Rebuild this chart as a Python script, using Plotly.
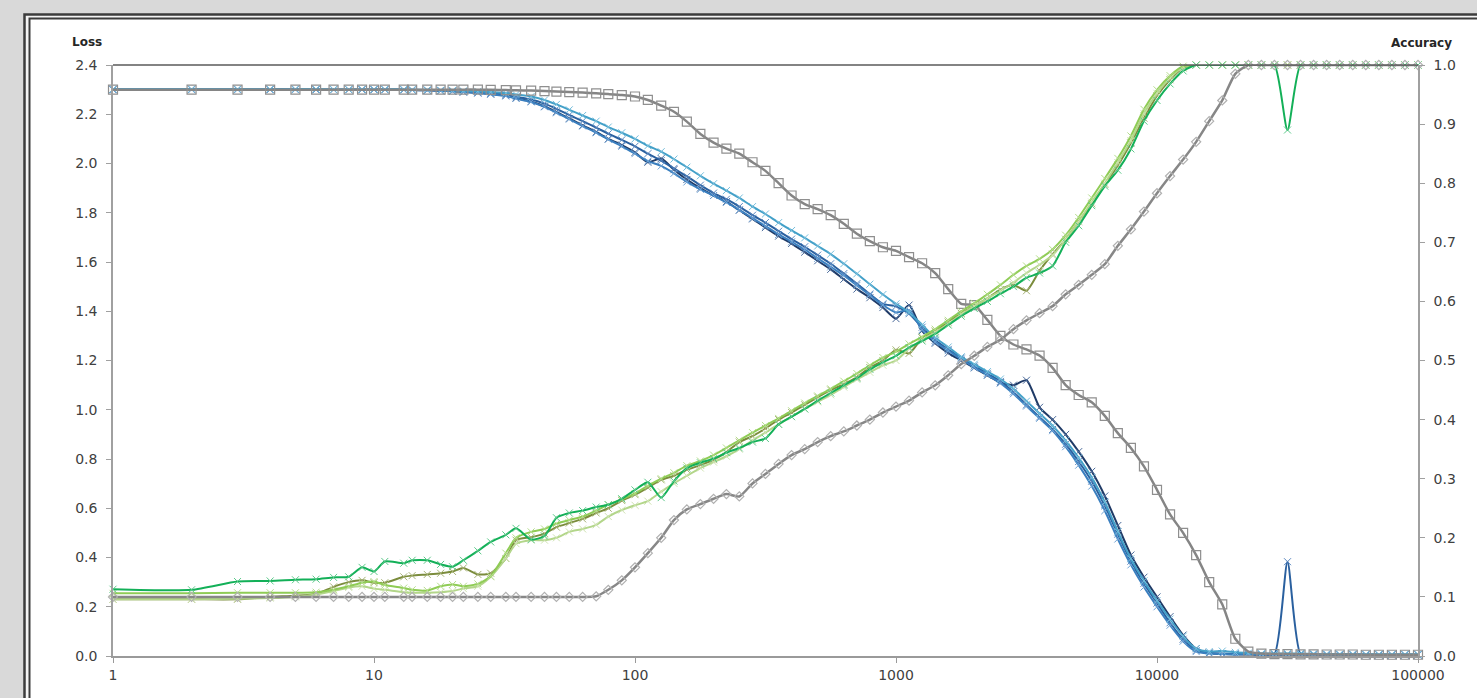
import plotly.graph_objects as go

# ---------------- data ----------------
steps = [1, 2, 3, 4, 5, 6, 7, 8, 9, 10,
         11, 13, 14, 16, 18, 20, 22, 25, 28, 32, 35, 40, 45, 50, 56, 63, 71, 79, 89,
         100, 112, 126, 141, 158, 178, 200, 224, 251, 282, 316, 355, 398, 447, 501, 562, 631, 708, 794, 891,
         1000, 1122, 1259, 1413, 1585, 1778, 1995, 2239, 2512, 2818, 3162, 3548, 3981, 4467, 5012, 5623, 6310, 7079, 7943, 8913,
         10000, 11220, 12589, 14125, 15849, 17783, 19953, 22387, 25119, 28184, 31623, 35481, 39811, 44668, 50119, 56234, 63096, 70795, 79433, 89125,
         100000]

loss_navy = [2.301, 2.301, 2.301, 2.301, 2.301, 2.300, 2.300, 2.300, 2.300, 2.300,
             2.300, 2.299, 2.298, 2.297, 2.295, 2.293, 2.290, 2.287, 2.282, 2.276, 2.266, 2.252, 2.232, 2.210, 2.183, 2.155, 2.128, 2.100, 2.075,
             2.045, 2.005, 2.020, 1.975, 1.935, 1.900, 1.870, 1.845, 1.810, 1.775, 1.740, 1.705, 1.675, 1.640, 1.605, 1.570, 1.530, 1.490, 1.455, 1.415,
             1.370, 1.425, 1.320, 1.270, 1.230, 1.200, 1.170, 1.140, 1.110, 1.100, 1.120, 1.010, 0.960, 0.900, 0.830, 0.750, 0.650, 0.530, 0.410, 0.320,
             0.240, 0.160, 0.085, 0.030, 0.012, 0.008, 0.006, 0.006, 0.005, 0.005, 0.005, 0.005, 0.005, 0.004, 0.004, 0.004, 0.004, 0.004, 0.004, 0.004,
             0.004]

loss_blue = [2.300, 2.300, 2.300, 2.300, 2.300, 2.300, 2.300, 2.300, 2.300, 2.300,
             2.300, 2.300, 2.299, 2.298, 2.297, 2.295, 2.292, 2.289, 2.285, 2.280, 2.271, 2.260, 2.243, 2.222, 2.197, 2.172, 2.146, 2.121, 2.096,
             2.070, 2.040, 2.012, 1.980, 1.948, 1.912, 1.880, 1.855, 1.825, 1.790, 1.760, 1.725, 1.693, 1.662, 1.628, 1.593, 1.553, 1.512, 1.470, 1.430,
             1.420, 1.390, 1.335, 1.282, 1.245, 1.210, 1.178, 1.148, 1.115, 1.072, 1.020, 0.970, 0.920, 0.860, 0.790, 0.710, 0.610, 0.495, 0.385, 0.295,
             0.215, 0.135, 0.068, 0.022, 0.012, 0.010, 0.009, 0.008, 0.008, 0.008, 0.383, 0.008, 0.007, 0.007, 0.006, 0.006, 0.006, 0.005, 0.005, 0.005,
             0.005]

loss_steel = [2.300, 2.300, 2.300, 2.300, 2.300, 2.300, 2.300, 2.300, 2.300, 2.300,
              2.300, 2.299, 2.298, 2.297, 2.295, 2.293, 2.290, 2.286, 2.281, 2.274, 2.264, 2.250, 2.230, 2.206, 2.180, 2.152, 2.125, 2.098, 2.070,
              2.040, 2.010, 1.990, 1.960, 1.925, 1.895, 1.870, 1.842, 1.812, 1.778, 1.746, 1.712, 1.682, 1.650, 1.615, 1.580, 1.545, 1.505, 1.465, 1.425,
              1.395, 1.405, 1.325, 1.275, 1.240, 1.205, 1.172, 1.142, 1.108, 1.065, 1.015, 0.965, 0.915, 0.850, 0.775, 0.690, 0.590, 0.475, 0.370, 0.280,
              0.200, 0.125, 0.060, 0.018, 0.010, 0.008, 0.007, 0.007, 0.006, 0.006, 0.006, 0.006, 0.005, 0.005, 0.005, 0.005, 0.005, 0.005, 0.004, 0.004,
              0.004]

loss_teal = [2.302, 2.302, 2.302, 2.302, 2.302, 2.302, 2.301, 2.301, 2.301, 2.301,
             2.301, 2.301, 2.300, 2.299, 2.298, 2.297, 2.295, 2.293, 2.290, 2.286, 2.280, 2.272, 2.258, 2.240, 2.218, 2.195, 2.172, 2.148, 2.125,
             2.100, 2.072, 2.048, 2.018, 1.985, 1.950, 1.918, 1.890, 1.860, 1.825, 1.795, 1.760, 1.728, 1.698, 1.665, 1.632, 1.593, 1.552, 1.510, 1.468,
             1.430, 1.395, 1.345, 1.292, 1.255, 1.215, 1.185, 1.155, 1.125, 1.085, 1.035, 0.985, 0.935, 0.875, 0.805, 0.725, 0.625, 0.505, 0.395, 0.305,
             0.225, 0.150, 0.080, 0.030, 0.018, 0.020, 0.015, 0.012, 0.010, 0.010, 0.010, 0.010, 0.009, 0.008, 0.008, 0.008, 0.007, 0.007, 0.007, 0.007,
             0.007]

loss_gray = [2.300, 2.300, 2.300, 2.300, 2.300, 2.300, 2.300, 2.300, 2.300, 2.300,
             2.300, 2.300, 2.300, 2.300, 2.300, 2.300, 2.300, 2.300, 2.299, 2.298, 2.297, 2.296, 2.294, 2.292, 2.290, 2.288, 2.285, 2.282, 2.278,
             2.272, 2.258, 2.235, 2.210, 2.170, 2.120, 2.085, 2.060, 2.040, 2.005, 1.970, 1.920, 1.870, 1.835, 1.815, 1.790, 1.755, 1.715, 1.685, 1.660,
             1.645, 1.620, 1.595, 1.555, 1.490, 1.430, 1.425, 1.365, 1.300, 1.265, 1.245, 1.220, 1.170, 1.100, 1.060, 1.030, 0.975, 0.905, 0.845, 0.770,
             0.675, 0.575, 0.500, 0.410, 0.300, 0.210, 0.070, 0.018, 0.010, 0.008, 0.008, 0.007, 0.007, 0.006, 0.006, 0.006, 0.005, 0.005, 0.005, 0.005,
             0.005]

acc_green = [0.113, 0.112, 0.126, 0.127, 0.129, 0.130, 0.133, 0.134, 0.150, 0.143,
             0.160, 0.157, 0.162, 0.162, 0.155, 0.151, 0.162, 0.178, 0.193, 0.205, 0.216, 0.197, 0.203, 0.234, 0.242, 0.246, 0.252, 0.256, 0.266,
             0.281, 0.294, 0.268, 0.296, 0.318, 0.327, 0.334, 0.344, 0.352, 0.362, 0.368, 0.392, 0.405, 0.418, 0.432, 0.445, 0.458, 0.470, 0.485, 0.497,
             0.508, 0.522, 0.533, 0.545, 0.560, 0.575, 0.588, 0.600, 0.613, 0.625, 0.640, 0.648, 0.660, 0.700, 0.728, 0.762, 0.795, 0.822, 0.858, 0.905,
             0.940, 0.968, 0.990, 1.000, 1.000, 1.000, 1.000, 1.000, 1.000, 1.000, 0.890, 1.000, 1.000, 1.000, 1.000, 1.000, 1.000, 1.000, 1.000, 1.000,
             1.000]

acc_olive = [0.096, 0.096, 0.096, 0.100, 0.102, 0.105, 0.117, 0.125, 0.128, 0.124,
             0.124, 0.134, 0.136, 0.138, 0.140, 0.143, 0.149, 0.138, 0.140, 0.165, 0.196, 0.201, 0.207, 0.218, 0.225, 0.232, 0.242, 0.250, 0.263,
             0.273, 0.285, 0.298, 0.305, 0.315, 0.323, 0.332, 0.345, 0.362, 0.372, 0.385, 0.400, 0.412, 0.425, 0.438, 0.450, 0.460, 0.472, 0.488, 0.500,
             0.518, 0.512, 0.538, 0.550, 0.565, 0.580, 0.592, 0.605, 0.620, 0.628, 0.618, 0.652, 0.680, 0.705, 0.735, 0.765, 0.798, 0.830, 0.868, 0.910,
             0.948, 0.975, 0.995, 1.000, 1.000, 1.000, 1.000, 1.000, 1.000, 1.000, 1.000, 1.000, 1.000, 1.000, 1.000, 1.000, 1.000, 1.000, 1.000, 1.000,
             1.000]

acc_lime = [0.106, 0.106, 0.107, 0.107, 0.107, 0.108, 0.112, 0.118, 0.124, 0.126,
            0.120, 0.115, 0.112, 0.111, 0.118, 0.121, 0.118, 0.122, 0.135, 0.174, 0.200, 0.210, 0.215, 0.224, 0.230, 0.236, 0.246, 0.256, 0.265,
            0.275, 0.288, 0.300, 0.310, 0.322, 0.330, 0.340, 0.352, 0.365, 0.378, 0.390, 0.402, 0.415, 0.428, 0.440, 0.452, 0.465, 0.478, 0.492, 0.505,
            0.515, 0.528, 0.540, 0.553, 0.568, 0.583, 0.597, 0.612, 0.628, 0.645, 0.660, 0.672, 0.688, 0.712, 0.742, 0.775, 0.808, 0.842, 0.880, 0.925,
            0.958, 0.982, 0.998, 1.000, 1.000, 1.000, 1.000, 1.000, 1.000, 1.000, 1.000, 1.000, 1.000, 1.000, 1.000, 1.000, 1.000, 1.000, 1.000, 1.000,
            1.000]

acc_pale = [0.096, 0.096, 0.097, 0.098, 0.100, 0.104, 0.110, 0.116, 0.118, 0.114,
            0.112, 0.108, 0.107, 0.107, 0.108, 0.110, 0.114, 0.118, 0.134, 0.165, 0.190, 0.196, 0.196, 0.200, 0.210, 0.215, 0.222, 0.236, 0.247,
            0.255, 0.262, 0.278, 0.292, 0.305, 0.318, 0.328, 0.338, 0.350, 0.365, 0.378, 0.392, 0.405, 0.418, 0.430, 0.442, 0.455, 0.468, 0.480, 0.492,
            0.500, 0.520, 0.535, 0.548, 0.562, 0.578, 0.592, 0.605, 0.618, 0.632, 0.648, 0.662, 0.678, 0.705, 0.735, 0.768, 0.800, 0.835, 0.872, 0.918,
            0.952, 0.978, 0.996, 1.000, 1.000, 1.000, 1.000, 1.000, 1.000, 1.000, 1.000, 1.000, 1.000, 1.000, 1.000, 1.000, 1.000, 1.000, 1.000, 1.000,
            1.000]

acc_gray = [0.100, 0.100, 0.100, 0.100, 0.100, 0.100, 0.100, 0.100, 0.100, 0.100,
            0.100, 0.100, 0.100, 0.100, 0.100, 0.100, 0.100, 0.100, 0.100, 0.100, 0.100, 0.100, 0.100, 0.100, 0.100, 0.100, 0.101, 0.112, 0.128,
            0.150, 0.174, 0.200, 0.230, 0.248, 0.257, 0.266, 0.274, 0.270, 0.292, 0.308, 0.325, 0.340, 0.350, 0.362, 0.372, 0.380, 0.390, 0.400, 0.412,
            0.422, 0.432, 0.446, 0.458, 0.475, 0.494, 0.508, 0.523, 0.535, 0.553, 0.568, 0.580, 0.592, 0.612, 0.628, 0.645, 0.663, 0.694, 0.722, 0.752,
            0.783, 0.812, 0.840, 0.870, 0.905, 0.940, 0.985, 1.000, 1.000, 1.000, 1.000, 1.000, 1.000, 1.000, 1.000, 1.000, 1.000, 1.000, 1.000, 1.000,
            1.000]

loss_ticks = [0.0, 0.2, 0.4, 0.6, 0.8, 1.0, 1.2, 1.4, 1.6, 1.8, 2.0, 2.2, 2.4]
acc_ticks = [0.0, 0.1, 0.2, 0.3, 0.4, 0.5, 0.6, 0.7, 0.8, 0.9, 1.0]
step_ticks = [1, 10, 100, 1000, 10000, 100000]
step_labels = ["1", "10", "100", "1000", "10000", "100000"]

# ---------------- figure ----------------
W, H = 1477, 698
L, R, T, B = 113, 1418, 65, 656
FONT = "DejaVu Sans"
PAGE_BG = "#d9d9d9"


def px(x):
    return (x - L) / (R - L)


def py(y):
    return (B - y) / (B - T)


fig = go.Figure()

loss_series = [
    (loss_navy, "#1f3a66", "#4a6a9a"),
    (loss_blue, "#2a609f", "#5b88c0"),
    (loss_steel, "#3a7fbf", "#6fa2d4"),
    (loss_teal, "#43a0c8", "#76bedc"),
]
for vals, col, mcol in loss_series:
    fig.add_trace(go.Scatter(
        x=steps, y=vals, mode="lines+markers", yaxis="y",
        line=dict(color=col, width=2, shape="spline", smoothing=0.6),
        marker=dict(symbol="x-thin-open", size=7, color=mcol, line=dict(color=mcol, width=1)),
        cliponaxis=False, showlegend=False))

fig.add_trace(go.Scatter(
    x=steps, y=loss_gray, mode="lines+markers", yaxis="y",
    line=dict(color="#858585", width=2.5, shape="spline", smoothing=0.6),
    marker=dict(symbol="square-open", size=9, color="#8f8f8f", line=dict(color="#8f8f8f", width=1.2)),
    cliponaxis=False, showlegend=False))

acc_series = [
    (acc_olive, "#7b8c3c", "#a6b276"),
    (acc_pale, "#b3d68a", "#cfe3b2"),
    (acc_lime, "#8fcc55", "#b4dc8c"),
    (acc_green, "#13b058", "#5cc98a"),
]
for vals, col, mcol in acc_series:
    fig.add_trace(go.Scatter(
        x=steps, y=vals, mode="lines+markers", yaxis="y2",
        line=dict(color=col, width=2, shape="spline", smoothing=0.6),
        marker=dict(symbol="x-thin-open", size=7, color=mcol, line=dict(color=mcol, width=1)),
        cliponaxis=False, showlegend=False))

fig.add_trace(go.Scatter(
    x=steps, y=acc_gray, mode="lines+markers", yaxis="y2",
    line=dict(color="#878787", width=2.5, shape="spline", smoothing=0.6),
    marker=dict(symbol="diamond-open", size=7, color="#b0b0b0", line=dict(color="#b0b0b0", width=1.2)),
    cliponaxis=False, showlegend=False))

axis_font = dict(family=FONT, size=14, color="#404040")

fig.update_layout(
    width=W, height=H,
    margin=dict(l=L, r=W - R, t=T, b=H - B, pad=0),
    paper_bgcolor=PAGE_BG,
    plot_bgcolor="rgba(0,0,0,0)",
    hovermode=False,
    xaxis=dict(type="log", range=[0, 5], tickvals=step_ticks, ticktext=step_labels,
               showgrid=False, zeroline=False, showline=True, linecolor="#9a9a9a", linewidth=1.5,
               ticks="outside", ticklen=5, tickcolor="#9a9a9a", tickfont=axis_font),
    yaxis=dict(range=[0, 2.4], tickvals=loss_ticks, tickformat=".1f",
               showgrid=False, zeroline=False, showline=True, linecolor="#a0a0a0", linewidth=1.5,
               ticks="outside", ticklen=5, tickcolor="#a0a0a0", tickfont=axis_font,
               ticklabelstandoff=6),
    yaxis2=dict(range=[0, 1.0], tickvals=acc_ticks, tickformat=".1f", overlaying="y", side="right",
                showgrid=False, zeroline=False, showline=True, linecolor="#a0a0a0", linewidth=1.5,
                ticks="outside", ticklen=5, tickcolor="#a0a0a0", tickfont=axis_font,
                ticklabelstandoff=6),
    shapes=[
        dict(type="rect", xref="paper", yref="paper", layer="below",
             x0=px(24.5), x1=px(1500), y0=py(14.5), y1=py(720),
             line=dict(color="#3c3c3c", width=2.5), fillcolor="#f4f4f4"),
        dict(type="rect", xref="paper", yref="paper", layer="below",
             x0=px(29.5), x1=px(1500), y0=py(18.5), y1=py(720),
             line=dict(color="#3c3c3c", width=2), fillcolor="#ffffff"),
        dict(type="line", xref="paper", yref="paper", layer="above",
             x0=0, x1=1, y0=1, y1=1, line=dict(color="#5a5a5a", width=1.5)),
    ],
    annotations=[
        dict(text="<b>Loss</b>", xref="paper", yref="paper", x=px(70), y=py(42),
             xanchor="left", yanchor="middle", showarrow=False,
             font=dict(family=FONT, size=12, color="#262626")),
        dict(text="<b>Accuracy</b>", xref="paper", yref="paper", x=px(1454), y=py(43),
             xanchor="right", yanchor="middle", showarrow=False,
             font=dict(family=FONT, size=12, color="#262626")),
    ],
)

fig.write_html(
    "out.html",
    config={"displayModeBar": False},
    post_script="document.body.style.margin='0';document.body.style.background='" + PAGE_BG + "';",
)
